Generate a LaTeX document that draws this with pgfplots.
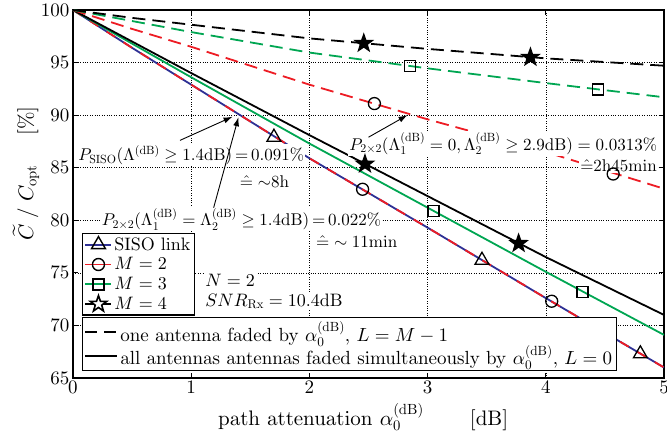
\documentclass[border=0pt]{standalone}
\usepackage[OT1]{fontenc}
\renewcommand{\rmdefault}{cmr}
% use the 10pt design of Computer Modern at every size (like a scaled figure)
\DeclareFontShape{OT1}{cmr}{m}{n}{<-> cmr10}{}
\DeclareFontShape{OT1}{cmr}{m}{it}{<-> cmti10}{}
\DeclareFontShape{OML}{cmm}{m}{it}{<-> cmmi10}{}
\DeclareFontShape{OMS}{cmsy}{m}{n}{<-> cmsy10}{}
\DeclareFontShape{OMX}{cmex}{m}{n}{<-> cmex10}{}
\usepackage{pgfplots}
\pgfplotsset{compat=1.18}
\usetikzlibrary{arrows.meta}

\definecolor{sisoblue}{rgb}{0.18,0.19,0.58}
\definecolor{mred}{rgb}{0.93,0.11,0.14}
\definecolor{mgreen}{rgb}{0.0,0.65,0.32}

% five-pointed star like MATLAB's pentagram
\pgfdeclareplotmark{pentagram}{%
  \pgfpathmoveto{\pgfpointpolar{90}{\pgfplotmarksize}}%
  \pgfpathlineto{\pgfpointpolar{126}{0.4\pgfplotmarksize}}%
  \pgfpathlineto{\pgfpointpolar{162}{\pgfplotmarksize}}%
  \pgfpathlineto{\pgfpointpolar{198}{0.4\pgfplotmarksize}}%
  \pgfpathlineto{\pgfpointpolar{234}{\pgfplotmarksize}}%
  \pgfpathlineto{\pgfpointpolar{270}{0.4\pgfplotmarksize}}%
  \pgfpathlineto{\pgfpointpolar{306}{\pgfplotmarksize}}%
  \pgfpathlineto{\pgfpointpolar{342}{0.4\pgfplotmarksize}}%
  \pgfpathlineto{\pgfpointpolar{18}{\pgfplotmarksize}}%
  \pgfpathlineto{\pgfpointpolar{54}{0.4\pgfplotmarksize}}%
  \pgfpathclose
  \pgfusepathqfillstroke}

\newcommand{\dB}{\mathrm{dB}}

\begin{document}
\begin{tikzpicture}
\pgfplotsset{
  base/.style={scale only axis, width=591pt, height=368pt,
    xmin=0, xmax=5, ymin=65, ymax=100},
  lgd/.style={legend style={draw=black, line width=1.2pt, fill=white,
    inner sep=2pt, cells={anchor=west}}},
  mk/.style={only marks, black, forget plot,
    mark options={solid, line width=1.3pt, fill=white}},
  dsh/.style={dash pattern=on 13pt off 7pt},
}
\begin{axis}[base, lgd,
  xtick={0,...,5}, ytick={65,70,...,100},
  grid=major, major grid style={black, dotted, line width=0.6pt},
  axis line style={line width=1.6pt},
  tick align=inside, major tick length=5pt,
  tick style={black, line width=0.8pt},
  ticklabel style={font=\fontsize{19}{22}\selectfont},
  xlabel={path attenuation $\alpha_0^{(\dB)}$\hspace{2.2em}[dB]},
  ylabel={$\widetilde{C}\;/\;C_{\mathrm{opt}}$\hspace{1.4em}[\%]},
  xlabel style={font=\fontsize{21}{23}\selectfont, at={(rel axis cs:0.491,0)}, yshift=-39pt, anchor=center},
  ylabel style={font=\fontsize{21}{23}\selectfont, at={(rel axis cs:-0.0795,0.556)}, anchor=center},
  legend style={at={(0.0152,0.394)}, anchor=north west,
    font=\fontsize{18}{20}\selectfont, row sep=2pt},
  legend image code/.code={\draw[mark repeat=2, mark phase=2]
    plot coordinates {(0pt,0pt) (13pt,0pt) (26pt,0pt)};},
  every axis plot/.append style={line width=1.8pt},
]
% legend entries (curves themselves are drawn with forget plot)
\addlegendimage{sisoblue, line width=1.8pt, mark=triangle, mark size=8pt, mark options={black, line width=1.4pt, fill=white}}
\addlegendentry{SISO link}
\addlegendimage{mred, line width=1.8pt, mark=o, mark size=6pt, mark options={black, line width=1.4pt, fill=white}}
\addlegendentry{$M=2$}
\addlegendimage{mgreen, line width=1.8pt, mark=square, mark size=5.5pt, mark options={black, line width=1.4pt, fill=white}}
\addlegendentry{$M=3$}
\addlegendimage{black, line width=1.8pt, mark=pentagram, mark size=8.5pt, mark options={black, line width=1.6pt, fill=white}}
\addlegendentry{$M=4$}

% L = 0: all antennas faded (SISO and M=2 coincide)
\addplot[sisoblue, forget plot] coordinates {
  (0,100) (0.5,96.4) (1,92.9) (1.4,90.1) (2,85.9) (3,79.3) (4,72.6) (5,66.0)};
\addplot[mred, dash pattern=on 10pt off 10pt, forget plot] coordinates {
  (0,100) (0.5,96.4) (1,92.9) (1.4,90.1) (2,85.9) (3,79.3) (4,72.6) (5,66.0)};
\addplot[mgreen, forget plot] coordinates {
  (0,100) (1,93.6) (2,87.3) (3,81.2) (4,75.1) (5,69.1)};
\addplot[black, forget plot] coordinates {
  (0,100) (1,94.0) (2,88.1) (3,82.3) (4,76.5) (5,71.0)};

% L = M-1: one antenna faded
\addplot[mred, dsh, forget plot] coordinates {
  (0,100) (0.5,98.2) (1,96.5) (2,92.9) (3,89.6) (4,86.5) (5,83.0)};
\addplot[mgreen, dsh, forget plot] coordinates {
  (0,100) (0.5,98.95) (1,97.9) (2,95.95) (3,94.45) (4,93.05) (5,91.7)};
\addplot[black, dsh, forget plot] coordinates {
  (0,100) (0.5,99.25) (1,98.6) (2,97.3) (3,96.3) (4,95.4) (5,94.7)};

% markers
\addplot[mk, mark=triangle, mark size=8pt] coordinates {(1.70,87.9) (3.46,76.2) (4.80,67.3)};
\addplot[mk, mark=o, mark size=6pt] coordinates {(2.45,82.95) (4.05,72.3) (2.55,91.1) (4.57,84.4)};
\addplot[mk, mark=square, mark size=5.5pt] coordinates {(3.05,80.9) (4.31,73.2) (2.85,94.67) (4.44,92.45)};
\addplot[mk, mark=pentagram, mark size=8.5pt, mark options={line width=1.6pt}] coordinates {(2.47,85.35) (3.77,77.8) (2.46,96.83) (3.87,95.5)};

% annotations
\begin{scope}[every node/.style={fill=white, inner sep=1pt, font=\fontsize{17}{20}\selectfont}]
\node at (axis cs:1.0,86.2) {$P_{\mathrm{SISO}}(\Lambda^{(\dB)}\geq 1.4\dB)\,{=}\,0.091\%$};
\node at (axis cs:1.62,83.65) {$\hat{=}\sim$8h};
\node at (axis cs:1.425,80.1) {$P_{2\times 2}(\Lambda_1^{(\dB)}=\Lambda_2^{(\dB)}\geq 1.4\dB)\,{=}\,0.022\%$};
\node at (axis cs:2.40,77.95) {$\hat{=}\sim 11$min};
\node at (axis cs:3.64,87.3) {$P_{2\times 2}(\Lambda_1^{(\dB)}=0,\Lambda_2^{(\dB)}\geq 2.9\dB)=0.0313\%$};
\node at (axis cs:4.615,85.2) {$\hat{=}$2h45min};
\node[anchor=west, font=\fontsize{18}{20}\selectfont] at (axis cs:1.11,74.3) {$N=2$};
\node[anchor=west, font=\fontsize{18}{20}\selectfont] at (axis cs:1.11,72.3) {$SNR_{\mathrm{Rx}}=10.4\dB$};
\end{scope}
\begin{scope}[-{Latex[length=9pt,width=6pt]}, line width=0.9pt]
\draw (axis cs:0.905,87.6) -- (axis cs:1.35,89.85);
\draw (axis cs:1.19,81.2) -- (axis cs:1.40,89.8);
\draw (axis cs:2.50,87.9) -- (axis cs:2.83,90.0);
\end{scope}
\end{axis}

% second legend
\begin{axis}[base, lgd, hide axis,
  legend style={at={(0.0152,0.019)}, anchor=south west,
    font=\fontsize{19}{21}\selectfont, row sep=-2pt},
  legend image code/.code={\draw (0pt,0pt) -- (32pt,0pt);},
]
\addlegendimage{black, line width=1.8pt, dash pattern=on 12pt off 7pt}
\addlegendentry{one antenna faded by $\alpha_0^{(\dB)}$, $L=M-1$}
\addlegendimage{black, line width=1.8pt}
\addlegendentry{all antennas antennas faded simultaneously by $\alpha_0^{(\dB)}$, $L=0$}
\end{axis}

\pgfresetboundingbox
\path[use as bounding box] (-73pt,-57pt) rectangle (594pt,378pt);
\end{tikzpicture}
\end{document}
